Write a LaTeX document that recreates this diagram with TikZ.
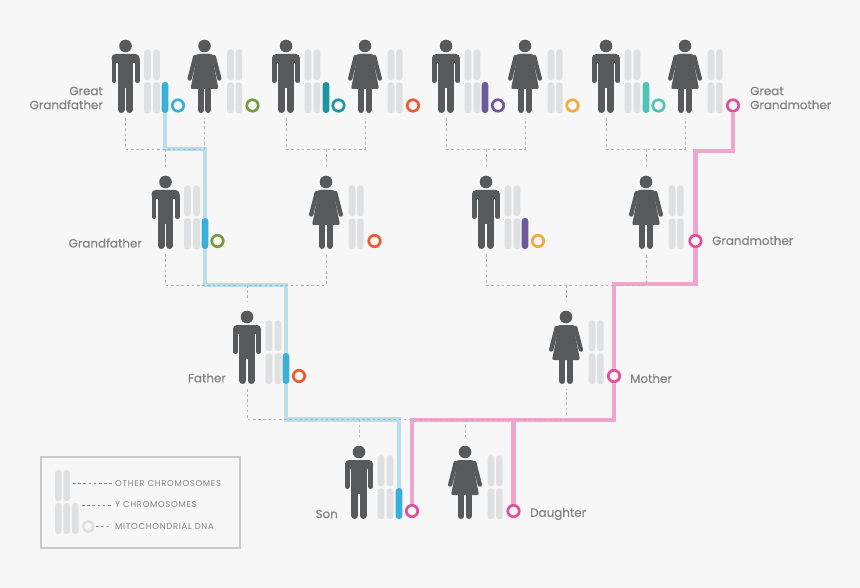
\documentclass[tikz,border=0pt]{standalone}
\usepackage{fontspec}
\setmainfont[FakeBold=0.4]{Poppins}
\newfontfamily\legfont[LetterSpace=8]{Poppins}
\definecolor{bgc}{HTML}{F7F7F7}
\definecolor{bodyc}{HTML}{58595B}
\definecolor{chrc}{HTML}{DFE0E2}
\definecolor{txtc}{HTML}{808285}
\definecolor{dashc}{HTML}{B4B5B7}
\definecolor{bluec}{HTML}{3AB0D8}
\definecolor{bluelc}{HTML}{B9DFEE}
\definecolor{pinkc}{HTML}{E34D9B}
\definecolor{pinklc}{HTML}{EFA6CB}
\definecolor{greenc}{HTML}{7A9A3C}
\definecolor{tealc}{HTML}{1E96A0}
\definecolor{redc}{HTML}{F15A30}
\definecolor{purpc}{HTML}{6B5B9A}
\definecolor{orangec}{HTML}{F5A93B}
\definecolor{mintc}{HTML}{4FC3B5}
\tikzset{
  chrom/.style={fill=chrc,rounded corners=3pt},
  ychr/.style={rectangle,fill=#1,rounded corners=3pt,minimum width=6.6pt,minimum height=31pt,inner sep=0pt},
  dna/.style={circle,draw=#1,fill=bgc,line width=2.7pt,minimum size=11.5pt,inner sep=0pt},
  kin/.style={dashed,dash pattern=on 2.6pt off 2.6pt,draw=dashc,line width=0.7pt},
  blueline/.style={draw=bluelc,line width=4.2pt},
  pinkline/.style={draw=pinklc,line width=4.2pt},
  lab/.style={text=txtc,font=\fontsize{11.9}{14}\selectfont,inner sep=0pt},
  leg/.style={text=txtc,font=\legfont\fontsize{8.5}{10}\selectfont,inner sep=0pt,anchor=west},
  man/.pic={
    \fill[bodyc] (0,0) circle (6.3);
    \fill[bodyc,rounded corners=4pt] (-14,8) -- (14,8) -- (14,17) -- (-14,17) -- cycle;
    \fill[bodyc] (-7.9,14) rectangle (7.9,42);
    \draw[bodyc,line width=4.6pt,line cap=round] (-11.7,14) -- (-11.7,34.7) (11.7,14) -- (11.7,34.7);
    \draw[bodyc,line width=6.8pt,line cap=round] (-4.2,40) -- (-4.2,63.6) (4.2,40) -- (4.2,63.6);
    \foreach \cx in {22,31}{
      \fill[chrom] (\cx-3.3,3.3) rectangle ++(6.6,31);
      \fill[chrom] (\cx-3.3,36.3) rectangle ++(6.6,31);
    }
    \coordinate (-feet) at (0,72);
    \coordinate (-top) at (0,-15);
  },
  woman/.pic={
    \fill[bodyc] (0,0) circle (6.3);
    \fill[bodyc,rounded corners=2pt] (-7,8) -- (7,8) -- (14,43) -- (-14,43) -- cycle;
    \draw[bodyc,line width=4.4pt,line cap=round] (-9.3,11) -- (-14.8,32.5) (9.3,11) -- (14.8,32.5);
    \fill[bodyc,rounded corners=2.5pt] (-8.5,8) -- (8.5,8) -- (10,14) -- (-10,14) -- cycle;
    \draw[bodyc,line width=6pt,line cap=round] (-3.7,42) -- (-3.7,64) (3.7,42) -- (3.7,64);
    \foreach \cx in {26,34.4}{
      \fill[chrom] (\cx-3.3,3.3) rectangle ++(6.6,31);
      \fill[chrom] (\cx-3.3,36.3) rectangle ++(6.6,31);
    }
    \coordinate (-feet) at (0,72);
    \coordinate (-top) at (0,-15);
  }
}
\begin{document}
\begin{tikzpicture}[x=1pt,y=-1pt]
\fill[bgc] (0,0) rectangle (860,588);
\useasboundingbox (0,0) rectangle (860,588);
% figures
\foreach \n/\x/\y in {gg1/125.5/46,gg3/286/46,gg5/446/46,gg7/606/46,g1/165.5/182,g3/486/182,f/247/317,son/359/452}{\pic (\n) at (\x,\y) {man};};
\foreach \n/\x/\y in {gg2/204.5/46,gg4/365/46,gg6/525/46,gg8/685/46,g2/326/182,g4/646/182,m/566/317,dau/465/452}{\pic (\n) at (\x,\y) {woman};};
% y chromosomes
\foreach \n/\x/\y/\c in {y1/165/97.5/bluec,y2/326/97.5/tealc,y3/485/97.5/purpc,y4/646/97.5/mintc,y5/205/233.5/bluec,y6/525/233.5/purpc,y7/286/368.5/bluec,y8/399/503.5/bluec}{\node[ychr=\c] (\n) at (\x,\y) {};};
% mitochondria
\foreach \n/\x/\y/\c in {d1/178/105.5/bluec,d2/252.5/105.5/greenc,d3/338.5/105.5/tealc,d4/413/105.5/redc,d5/498/105.5/purpc,d6/572.5/105.5/orangec,d7/658.5/105.5/mintc,d8/733/105.5/pinkc,d9/217.5/241/greenc,d10/374.5/241/redc,d11/538/241/orangec,d12/695.5/241/pinkc,d13/299/376/redc,d14/614/376/pinkc,d15/412/511/pinkc,d16/513.5/511/pinkc}{\node[dna=\c] (\n) at (\x,\y) {};};
% inheritance lines
\coordinate (bl1) at (205,149);
\coordinate (bl2) at (286,285);
\coordinate (bl3) at (399,419.5);
\coordinate (pl1) at (695.5,151);
\coordinate (pl2) at (614,284);
\coordinate (pl3) at (412,420);
\coordinate (pl4) at (513.5,420);
\draw[blueline] (y1.south) |- (bl1) -- (y5.north);
\draw[blueline] (y5.south) |- (bl2) -- (y7.north);
\draw[blueline] (y7.south) |- (bl3) -- (y8.north);
\draw[pinkline] (d8) |- (pl1) -- (d12);
\draw[pinkline] (d12) |- (pl2) -- (d14);
\draw[pinkline] (d14) |- (pl3) -- (d15);
\draw[pinkline] (pl4) -- (d16);
% family tree
\foreach \a/\b/\c/\jx/\jy in {gg1/gg2/g1/165.5/149,gg3/gg4/g2/326/149,gg5/gg6/g3/486/149,gg7/gg8/g4/646/149,g1/g2/f/247/285,g3/g4/m/566/285}{
  \coordinate (j\c) at (\jx,\jy);
  \draw[kin] (\a-feet) |- (j\c) -| (\b-feet);
  \draw[kin] (j\c) -- (\c-top);
};
\coordinate (jf) at (359,419.5);
\coordinate (jd) at (465,419.5);
\draw[kin] (f-feet) |- (jf) -- (jd) -| (m-feet);
\draw[kin] (jf) -- (son-top);
\draw[kin] (jd) -- (dau-top);
% labels
\node[lab,align=right,anchor=east] (lgg) at (103,98) {Great\\Grandfather};
\node[lab,align=left,anchor=west] (lgm) at (750,98) {Great\\Grandmother};
\node[lab,anchor=east] (lg) at (142,243) {Grandfather};
\node[lab,anchor=west] (lgr) at (712,240.5) {Grandmother};
\node[lab,anchor=east] (lf) at (226,378) {Father};
\node[lab,anchor=west] (lm) at (630,378.5) {Mother};
\node[lab,anchor=east] (ls) at (338,514) {Son};
\node[lab,anchor=west] (ld) at (530,514) {Daughter};
% legend
\draw[chrc!90!black,line width=1.1pt] (41,457) rectangle (240,548);
\foreach \cx/\cy in {58.3/470,66.7/470,58.3/503,66.7/503,75.3/503}{\fill[chrom] (\cx-3.3,\cy) rectangle ++(6.6,31);};
\node[circle,draw=chrc,line width=2.7pt,minimum size=10.5pt,inner sep=0pt] (ld1) at (88.3,526.5) {};
\node[leg] (lt1) at (115,483.5) {OTHER CHROMOSOMES};
\node[leg] (lt2) at (115,505) {Y CHROMOSOMES};
\node[leg] (lt3) at (115,527) {MITOCHONDRIAL DNA};
\coordinate (lc1) at (73,483.5);
\coordinate (lc2) at (82,505);
\draw[kin,draw=txtc,shorten >=3pt] (lc1) -- (lt1);
\draw[kin,draw=txtc,shorten >=3pt] (lc2) -- (lt2);
\draw[kin,draw=txtc,shorten >=4pt,shorten <=1pt] (ld1) -- (lt3);
\end{tikzpicture}
\end{document}
